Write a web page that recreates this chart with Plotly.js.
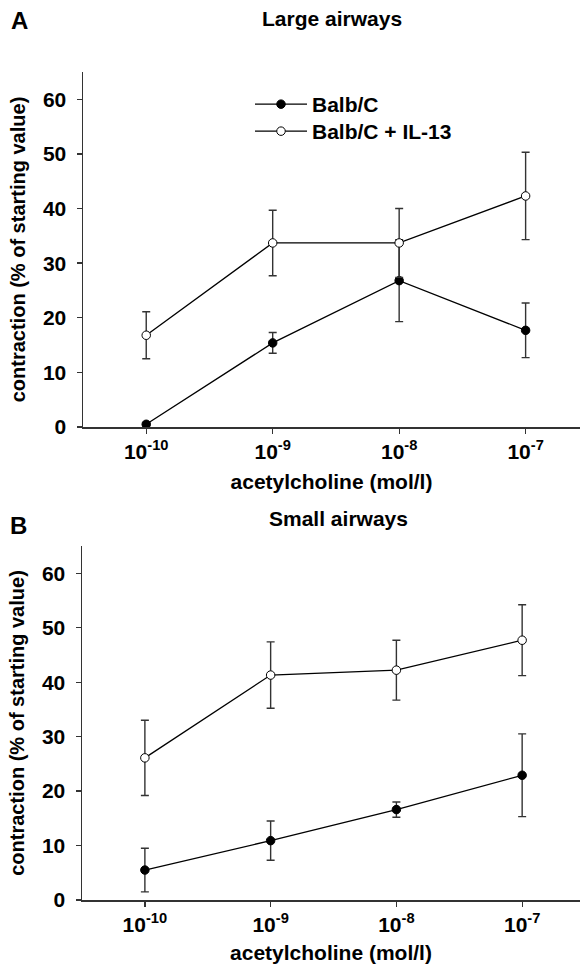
<!DOCTYPE html>
<html>
<head>
<meta charset="utf-8">
<script src="https://cdn.plot.ly/plotly-3.0.1.min.js"></script>
<style>html,body{margin:0;padding:0;background:#fff;}#chart{width:581px;height:964px;}</style>
</head>
<body>
<div id="chart"></div>
<script>
// Data
var concentrations = [1e-10, 1e-9, 1e-8, 1e-7];
var tickLabels = ['10<sup>-10</sup>', '10<sup>-9</sup>', '10<sup>-8</sup>', '10<sup>-7</sup>'];
var seriesNames = ['Balb/C', 'Balb/C + IL-13'];

var largeBalb = [0.5, 15.4, 26.8, 17.7];
var largeBalbErr = [0.3, 1.9, 7.5, 5.0];
var largeIL13 = [16.8, 33.7, 33.7, 42.3];
var largeIL13Err = [4.3, 6.0, 6.3, 8.0];

var smallBalb = [5.5, 10.9, 16.6, 22.9];
var smallBalbErr = [4.0, 3.6, 1.4, 7.6];
var smallIL13 = [26.1, 41.3, 42.2, 47.7];
var smallIL13Err = [6.9, 6.1, 5.5, 6.5];

var W = 581, H = 964;
var FONT = 'Liberation Sans, Arial, Helvetica, sans-serif';
var ink = '#000';
var axisInk = '#333';

function px(x) { return x / W; }
function py(y) { return 1 - y / H; }

function trace(y, err, filled, xa, ya, name, show, legendId) {
  var t = {
    x: concentrations, y: y, xaxis: xa, yaxis: ya, name: name, showlegend: show,
    type: 'scatter', mode: 'lines+markers',
    line: {color: ink, width: 1.3},
    marker: {symbol: 'circle', size: 8.5, color: filled ? ink : '#fff', line: {color: ink, width: 1}},
    error_y: {type: 'data', array: err, visible: true, color: axisInk, thickness: 1.4, width: 4}
  };
  if (legendId) t.legend = legendId;
  return t;
}

var data = [
  trace(largeBalb, largeBalbErr, true, 'x', 'y', seriesNames[0], true, 'legend'),
  trace(largeIL13, largeIL13Err, false, 'x', 'y', seriesNames[1], true, 'legend2'),
  trace(smallBalb, smallBalbErr, true, 'x2', 'y2', seriesNames[0], false),
  trace(smallIL13, smallIL13Err, false, 'x2', 'y2', seriesNames[1], false)
];

var tickFont = {family: FONT, size: 21, color: ink, weight: 700};
var titleFont = {family: FONT, size: 21, color: ink, weight: 700};
var yTitleFont = {family: FONT, size: 20, color: ink, weight: 700};

function xAxis(anchor, domain, range, standoff) {
  return {
    anchor: anchor, domain: domain, type: 'log', range: range,
    tickvals: concentrations, ticktext: tickLabels,
    showgrid: false, zeroline: false, showline: true, linecolor: axisInk, linewidth: 1.5,
    ticks: 'outside', ticklen: 5, tickwidth: 1.3, tickcolor: axisInk,
    tickfont: tickFont, automargin: false,
    title: {text: 'acetylcholine (mol/l)', font: titleFont, standoff: standoff}
  };
}
function yAxis(anchor, domain) {
  return {
    anchor: anchor, domain: domain, range: [0, 65],
    tickvals: [0, 10, 20, 30, 40, 50, 60],
    showgrid: false, zeroline: false, showline: true, linecolor: axisInk, linewidth: 1.5,
    ticks: 'outside', ticklen: 5, tickwidth: 1.3, tickcolor: axisInk,
    tickfont: tickFont, automargin: false, ticklabelstandoff: 6,
    title: {text: 'contraction (% of starting value)', font: yTitleFont, standoff: 12}
  };
}

function legendBox(yPx) {
  return {
    x: px(250), y: py(yPx), xanchor: 'left', yanchor: 'top',
    font: {family: FONT, size: 21, color: ink, weight: 700},
    bgcolor: 'rgba(0,0,0,0)', borderwidth: 0, itemwidth: 52
  };
}

var layout = {
  width: W, height: H,
  margin: {l: 0, r: 0, t: 0, b: 0},
  paper_bgcolor: '#fff', plot_bgcolor: '#fff',
  showlegend: true,
  legend: legendBox(84),
  legend2: legendBox(111),
  xaxis: xAxis('y', [px(83), px(580)], [-10.5, -6.57], 12),
  yaxis: yAxis('x', [py(427), py(72)]),
  xaxis2: xAxis('y2', [px(82), px(580)], [-10.5, -6.54], 10),
  yaxis2: yAxis('x2', [py(900), py(546)]),
  annotations: [
    {text: 'A', x: px(20), y: py(20), xref: 'paper', yref: 'paper', showarrow: false,
     xanchor: 'center', yanchor: 'middle', font: {family: FONT, size: 24, color: ink, weight: 700}},
    {text: 'B', x: px(18), y: py(525), xref: 'paper', yref: 'paper', showarrow: false,
     xanchor: 'center', yanchor: 'middle', font: {family: FONT, size: 24, color: ink, weight: 700}},
    {text: 'Large airways', x: px(332), y: py(18), xref: 'paper', yref: 'paper', showarrow: false,
     xanchor: 'center', yanchor: 'middle', font: titleFont},
    {text: 'Small airways', x: px(338), y: py(518), xref: 'paper', yref: 'paper', showarrow: false,
     xanchor: 'center', yanchor: 'middle', font: titleFont}
  ]
};

Plotly.newPlot('chart', data, layout, {displayModeBar: false, staticPlot: true});
</script>
</body>
</html>
